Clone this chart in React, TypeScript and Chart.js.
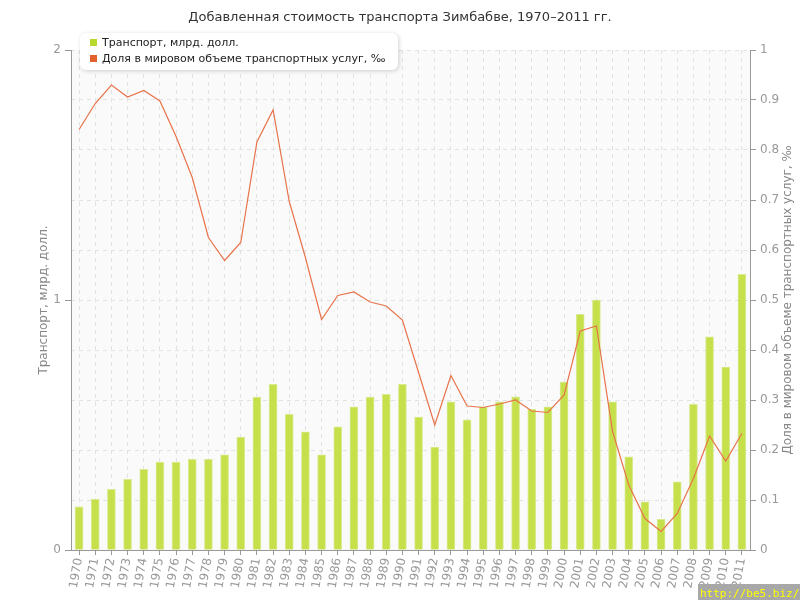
import React, { useEffect, useRef } from "react";
import { Chart, registerables } from "chart.js";

Chart.register(...registerables);

const years = [
  "1970", "1971", "1972", "1973", "1974", "1975", "1976", "1977", "1978", "1979",
  "1980", "1981", "1982", "1983", "1984", "1985", "1986", "1987", "1988", "1989",
  "1990", "1991", "1992", "1993", "1994", "1995", "1996", "1997", "1998", "1999",
  "2000", "2001", "2002", "2003", "2004", "2005", "2006", "2007", "2008", "2009",
  "2010", "2011",
];

// Транспорт, млрд. долл.
const transport = [
  0.173, 0.203, 0.243, 0.283, 0.323, 0.352, 0.352, 0.363, 0.363, 0.381,
  0.452, 0.612, 0.663, 0.543, 0.473, 0.381, 0.493, 0.573, 0.612, 0.623,
  0.663, 0.532, 0.412, 0.593, 0.521, 0.573, 0.593, 0.613, 0.563, 0.573,
  0.672, 0.943, 1.0, 0.593, 0.373, 0.193, 0.123, 0.273, 0.583, 0.853,
  0.732, 1.103,
];

// Доля в мировом объеме транспортных услуг, ‰
const share = [
  0.841, 0.893, 0.93, 0.906, 0.919, 0.898, 0.827, 0.745, 0.625, 0.579,
  0.615, 0.816, 0.88, 0.697, 0.585, 0.461, 0.509, 0.516, 0.496, 0.488,
  0.46, 0.355, 0.25, 0.349, 0.288, 0.285, 0.292, 0.3, 0.278, 0.275,
  0.31, 0.438, 0.448, 0.237, 0.13, 0.063, 0.037, 0.073, 0.143, 0.228,
  0.178, 0.233,
];

const titleText = "Добавленная стоимость транспорта Зимбабве, 1970–2011 гг.";
const seriesNames = ["Транспорт, млрд. долл.", "Доля в мировом объеме транспортных услуг, ‰"];
const leftAxisTitle = "Транспорт, млрд. долл.";
const rightAxisTitle = "Доля в мировом объеме транспортных услуг, ‰";
const watermark = "http://be5.biz/";

const FONT = "DejaVu Sans";
const BAR_FILL = "#c6e04c";
const BAR_BORDER = "#d8eb92";
const LINE_COLOR = "#e8734a";
const LEGEND_GREEN = "#b6d92c";
const LEGEND_ORANGE = "#e2622e";

const decorPlugin = {
  id: "decor",
  beforeDraw(chart: any) {
    const { ctx, chartArea } = chart;
    ctx.save();
    ctx.fillStyle = "#ffffff";
    ctx.fillRect(0, 0, chart.width, chart.height);
    ctx.fillStyle = "#fafafa";
    ctx.fillRect(chartArea.left, chartArea.top, chartArea.right - chartArea.left, chartArea.bottom - chartArea.top);
    ctx.restore();
  },
  afterDraw(chart: any) {
    const { ctx, chartArea } = chart;
    ctx.save();
    // title
    ctx.fillStyle = "#333";
    ctx.font = `13px "${FONT}"`;
    ctx.textAlign = "center";
    ctx.textBaseline = "middle";
    ctx.fillText(titleText, 400, 18);

    // axis titles
    const midY = (chartArea.top + chartArea.bottom) / 2;
    ctx.fillStyle = "#888";
    ctx.font = `12px "${FONT}"`;
    ctx.save();
    ctx.translate(44, midY);
    ctx.rotate(-Math.PI / 2);
    ctx.fillText(leftAxisTitle, 0, 0);
    ctx.restore();
    ctx.save();
    ctx.translate(788, midY);
    ctx.rotate(-Math.PI / 2);
    ctx.fillText(rightAxisTitle, 0, 0);
    ctx.restore();

    // legend box
    const bx = 80, by = 33, bw = 318, bh = 37, r = 6;
    ctx.save();
    ctx.shadowColor = "rgba(0,0,0,0.18)";
    ctx.shadowBlur = 4;
    ctx.shadowOffsetX = 1;
    ctx.shadowOffsetY = 1;
    ctx.fillStyle = "#ffffff";
    ctx.beginPath();
    ctx.moveTo(bx + r, by);
    ctx.lineTo(bx + bw - r, by);
    ctx.arcTo(bx + bw, by, bx + bw, by + r, r);
    ctx.lineTo(bx + bw, by + bh - r);
    ctx.arcTo(bx + bw, by + bh, bx + bw - r, by + bh, r);
    ctx.lineTo(bx + r, by + bh);
    ctx.arcTo(bx, by + bh, bx, by + bh - r, r);
    ctx.lineTo(bx, by + r);
    ctx.arcTo(bx, by, bx + r, by, r);
    ctx.closePath();
    ctx.fill();
    ctx.restore();

    ctx.fillStyle = LEGEND_GREEN;
    ctx.fillRect(90, 39, 7, 7);
    ctx.fillStyle = LEGEND_ORANGE;
    ctx.fillRect(90, 55, 7, 7);
    ctx.fillStyle = "#222";
    ctx.font = `11px "${FONT}"`;
    ctx.textAlign = "left";
    ctx.textBaseline = "middle";
    ctx.fillText(seriesNames[0], 102, 43);
    ctx.fillText(seriesNames[1], 102, 59);

    // watermark
    ctx.fillStyle = "#a8a8a8";
    ctx.fillRect(698, 584, 102, 16);
    ctx.fillStyle = "#ffff00";
    ctx.font = `11px "DejaVu Sans Mono"`;
    ctx.textAlign = "left";
    ctx.textBaseline = "alphabetic";
    ctx.fillText(watermark, 700, 597);
    ctx.restore();
  },
};

export default function App() {
  const ref = useRef<HTMLCanvasElement | null>(null);

  useEffect(() => {
    if (!ref.current) return;
    const chart = new Chart(ref.current, {
      type: "bar",
      data: {
        labels: years,
        datasets: [
          {
            type: "line",
            label: seriesNames[1],
            data: share,
            yAxisID: "y1",
            borderColor: LINE_COLOR,
            borderWidth: 1.2,
            pointRadius: 0,
            tension: 0,
            fill: false,
            order: 0,
          } as any,
          {
            type: "bar",
            label: seriesNames[0],
            data: transport,
            yAxisID: "y",
            backgroundColor: BAR_FILL,
            borderColor: BAR_BORDER,
            borderWidth: 1,
            barThickness: 8,
            order: 1,
          },
        ],
      },
      options: {
        responsive: false,
        animation: false,
        events: [],
        layout: { padding: { top: 50, left: 0, right: 0, bottom: 0 } },
        plugins: {
          legend: { display: false },
          title: { display: false },
          tooltip: { enabled: false },
        },
        scales: {
          x: {
            offset: true,
            z: 1,
            grid: {
              offset: false,
              color: "#e2e2e2",
              tickColor: "#999",
              tickLength: 5,
              drawOnChartArea: true,
            },
            border: { color: "#999", dash: [4, 4] },
            ticks: {
              color: "#999",
              font: { family: FONT, size: 12 },
              minRotation: 80,
              maxRotation: 80,
              autoSkip: false,
              padding: 2,
            },
            afterFit: (s: any) => {
              s.height = 50;
            },
          },
          y: {
            position: "left",
            min: 0,
            max: 2,
            ticks: {
              stepSize: 1,
              color: "#999",
              font: { family: FONT, size: 12 },
              padding: 4,
            },
            grid: {
              drawOnChartArea: false,
              tickColor: "#999",
              tickLength: 6,
            },
            border: { color: "#999" },
            afterFit: (s: any) => {
              s.width = 71;
            },
          },
          y1: {
            position: "right",
            min: 0,
            max: 1,
            z: 1,
            ticks: {
              stepSize: 0.1,
              color: "#999",
              font: { family: FONT, size: 12 },
              padding: 4,
              callback: (v: any) => String(Math.round(Number(v) * 10) / 10),
            },
            grid: {
              drawOnChartArea: true,
              color: "#e2e2e2",
              tickColor: "#999",
              tickLength: 6,
            },
            border: { color: "#999", dash: [4, 4] },
            afterFit: (s: any) => {
              s.width = 50;
            },
          },
        },
      },
      plugins: [decorPlugin],
    });
    return () => chart.destroy();
  }, []);

  return (
    <div style={{ position: "fixed", left: 0, top: 0, width: 800, height: 600, background: "#fff" }}>
      <canvas ref={ref} width={800} height={600} style={{ display: "block", width: 800, height: 600 }} />
    </div>
  );
}
